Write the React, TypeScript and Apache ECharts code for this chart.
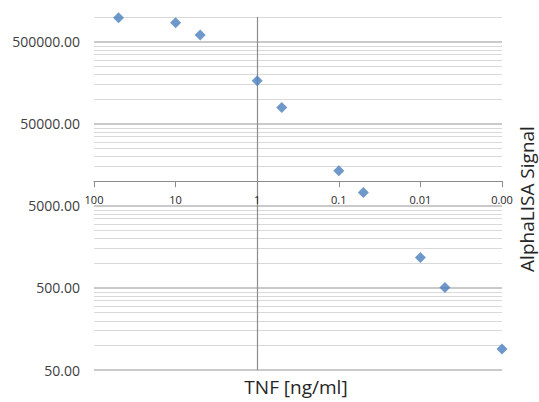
import React, { useEffect, useRef } from "react";
import * as echarts from "echarts";

// TNF concentration [ng/ml]
const xValues = [50, 10, 5, 1, 0.5, 0.1, 0.05, 0.01, 0.005, 0.001];
// AlphaLISA signal
const yValues = [980000, 853000, 605000, 167000, 79100, 13350, 7270, 1170, 505, 90];

const yTickLabels = ["50.00", "500.00", "5000.00", "50000.00", "500000.00"];
const xTickLabels = ["0.00", "0.01", "0.1", "1", "10", "100"]; // for log10 = -3..2

const Y_BASE = 50;
const Y_MAX = 1000000;
const X_CROSS_Y = 10000; // horizontal axis crosses here
const X_MIN_LOG = -3;
const X_MAX_LOG = 2;
const MINOR_MULTS = [2, 3, 4, 5, 6, 7, 8, 9];

const lg = (v: number) => Math.log10(v);
const yu = (v: number) => lg(v / Y_BASE);

export default function App() {
  const ref = useRef<HTMLDivElement>(null);
  useEffect(() => {
    document.body.style.margin = "0";
    if (!ref.current) return;
    const chart = echarts.init(ref.current, undefined, { renderer: "svg" });
    const font = "'Open Sans', 'Noto Sans', sans-serif";
    const yTop = yu(Y_MAX);

    const GRID_TOP = 17;
    const GRID_BOTTOM = 32;
    const H = 402;
    const plotH = H - GRID_TOP - GRID_BOTTOM;
    const crossY = GRID_TOP + plotH * (1 - yu(X_CROSS_Y) / yTop);

    const gridLines: any[] = [];
    for (let d = 0; d < yTickLabels.length; d++) {
      gridLines.push({ yAxis: d, lineStyle: { color: "#b8b8b8", width: 1.6, type: "solid" } });
      for (const m of MINOR_MULTS) {
        const u = d + lg(m);
        if (u <= yTop + 1e-9) {
          gridLines.push({ yAxis: u, lineStyle: { color: "#d9d9d9", width: 1, type: "solid" } });
        }
      }
    }
    gridLines.push({ xAxis: 0, lineStyle: { color: "#8c8c8c", width: 1.2, type: "solid" } });

    chart.setOption({
      animation: false,
      grid: [
        { left: 94, right: 37, top: GRID_TOP, bottom: GRID_BOTTOM, containLabel: false, outerBoundsMode: "none" },
        { left: 94, right: 37, top: GRID_TOP, bottom: H - crossY, containLabel: false, outerBoundsMode: "none" },
      ],
      xAxis: [
        {
          type: "value",
          gridIndex: 0,
          min: X_MIN_LOG,
          max: X_MAX_LOG,
          interval: 1,
          inverse: true,
          axisLine: { show: false },
          axisTick: { show: false },
          axisLabel: { show: false },
          splitLine: { show: false },
        },
        {
          type: "value",
          gridIndex: 1,
          min: X_MIN_LOG,
          max: X_MAX_LOG,
          interval: 1,
          inverse: true,
          z: 8,
          axisLine: { show: true, onZero: false, lineStyle: { color: "#8c8c8c", width: 1.2 } },
          axisTick: { show: true, length: 6, lineStyle: { color: "#8c8c8c" } },
          axisLabel: {
            margin: 13,
            fontFamily: font,
            fontSize: 11,
            color: "#262626",
            formatter: (v: number) => xTickLabels[Math.round(v) - X_MIN_LOG] ?? "",
          },
          splitLine: { show: false },
        },
      ],
      yAxis: [
        {
          type: "value",
          gridIndex: 0,
          min: 0,
          max: yTop,
          interval: 1,
          axisLine: { show: false, onZero: false },
          axisTick: { show: false },
          splitLine: { show: false },
          axisLabel: {
            margin: 14,
            fontFamily: font,
            fontSize: 14,
            color: "#404040",
            showMaxLabel: false,
            formatter: (v: number) => {
              const r = Math.round(v);
              return Math.abs(v - r) < 1e-6 ? yTickLabels[r] ?? "" : "";
            },
          },
        },
        {
          type: "value",
          gridIndex: 1,
          show: false,
          min: 0,
          max: 1,
        },
      ],
      series: [
        {
          type: "line",
          xAxisIndex: 0,
          yAxisIndex: 0,
          data: [],
          z: 1,
          markLine: {
            silent: true,
            symbol: ["none", "none"],
            label: { show: false },
            z: 1,
            data: gridLines,
          },
        },
        {
          type: "scatter",
          xAxisIndex: 0,
          yAxisIndex: 0,
          z: 10,
          symbol: "diamond",
          symbolSize: 11,
          itemStyle: { color: "#4a7ebb" },
          data: xValues.map((x, i) => [lg(x), yu(yValues[i])]),
        },
      ],
      graphic: [
        {
          type: "text",
          x: 296,
          y: 387,
          style: { text: "TNF [ng/ml]", font: `19px ${font}`, fill: "#262626", align: "center", verticalAlign: "middle" },
        },
        {
          type: "text",
          x: 527,
          y: 199,
          rotation: Math.PI / 2,
          style: { text: "AlphaLISA Signal", font: `19px ${font}`, fill: "#262626", align: "center", verticalAlign: "middle" },
        },
      ],
    });
    return () => chart.dispose();
  }, []);
  return <div ref={ref} style={{ width: 539, height: 402 }} />;
}
